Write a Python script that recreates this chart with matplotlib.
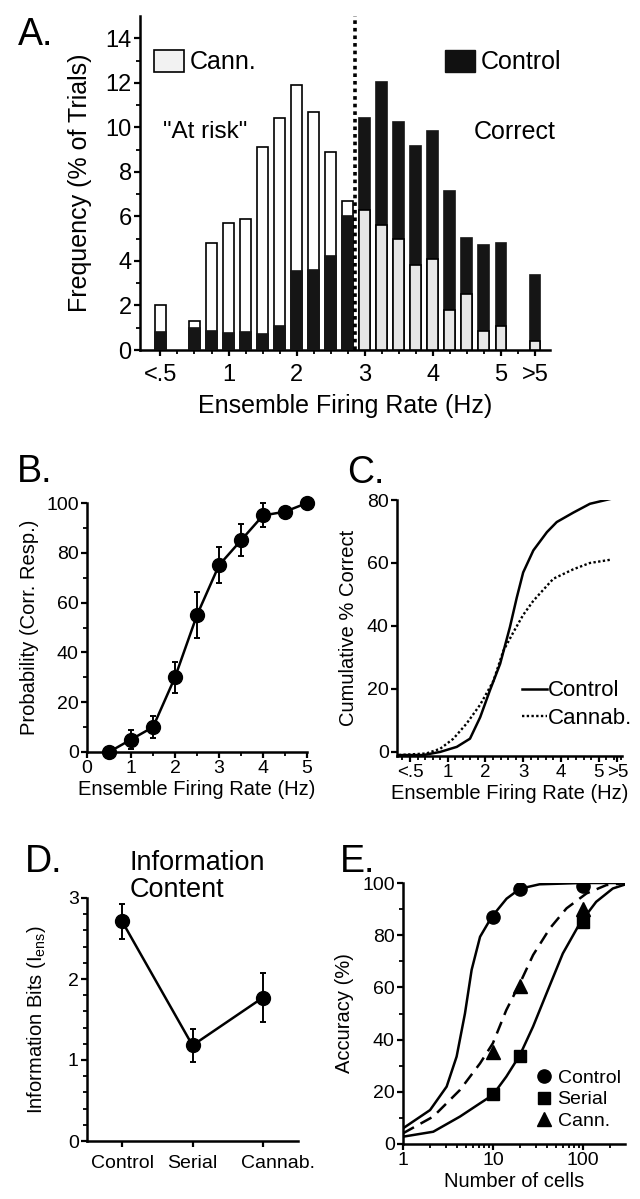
import numpy as np
import matplotlib
matplotlib.use('Agg')
import matplotlib.pyplot as plt
import matplotlib.transforms as mtransforms
from matplotlib.patches import Patch

plt.rcParams['font.family'] = ['Liberation Sans', 'DejaVu Sans']
plt.rcParams['mathtext.fontset'] = 'custom'
plt.rcParams['mathtext.rm'] = 'Liberation Sans'

# --- A: histogram of ensemble firing rate (% of trials)
rate_bins = [0, 0.5, 0.75, 1, 1.25, 1.5, 1.75, 2, 2.25, 2.5, 2.75,
             3, 3.25, 3.5, 3.75, 4, 4.25, 4.5, 4.75, 5, 5.5]
cann_pct = [2.0, 1.3, 4.8, 5.7, 5.9, 9.1, 10.4, 11.9, 10.7, 8.9, 6.7,
            6.3, 5.6, 5.0, 3.8, 4.1, 1.8, 2.5, 0.85, 1.1, 0.4]
ctrl_pct = [0.8, 1.0, 0.85, 0.75, 0.8, 0.7, 1.1, 3.55, 3.6, 4.2, 6.0,
            10.4, 12.05, 10.25, 9.15, 9.85, 7.15, 5.05, 4.7, 4.8, 3.35]
risk_cut = 2.85
a_ticks = [0, 1, 2, 3, 4, 5, 5.5]
a_ticklabels = ['<.5', '1', '2', '3', '4', '5', '>5']

# --- B: probability of correct response
b_rate = [0.5, 1, 1.5, 2, 2.5, 3, 3.5, 4, 4.5, 5]
b_prob = [0, 5, 10, 30, 55, 75, 85, 95, 96.5, 100]
b_err = [0, 3.7, 4.3, 6.2, 9.2, 7.2, 6.4, 4.8, 1.0, 0]

# --- C: cumulative % correct
c_ctrl_x = [-0.3, 0.35, 0.8, 1.24, 1.59, 1.86, 2.12, 2.39, 2.65, 2.83, 3.0,
            3.27, 3.63, 3.89, 4.33, 4.77, 5.3]
c_ctrl_y = [-1, -1, 0, 1.6, 4.2, 11, 19.6, 28, 39.7, 49, 57,
            64, 69.8, 73, 76, 78.8, 80.3]
c_cann_x = [-0.3, 0.43, 0.8, 1.15, 1.5, 1.86, 2.21, 2.47, 2.74, 3.0, 3.27,
            3.8, 4.33, 4.77, 5.3]
c_cann_y = [-1, -0.5, 1.0, 4.2, 9, 15, 22.5, 32, 38, 43.5, 48,
            55, 58, 60, 61]

# --- D: information content
d_groups = ['Control', 'Serial', 'Cannab.']
d_bits = [2.71, 1.18, 1.77]
d_err = [0.21, 0.2, 0.3]

# --- E: accuracy vs number of cells
e_cells = [10, 20, 100]
e_ctrl = [86.8, 97.7, 99.0]
e_serial = [19, 33.8, 84.9]
e_cann = [35.4, 60.5, 89.9]
fit_ctrl_x = [1, 2, 3.06, 3.95, 4.89, 5.8, 7.2, 9.7, 14.2, 20, 33, 97, 300]
fit_ctrl_y = [6, 13, 22, 33.5, 50, 66.7, 79.4, 87, 94, 97.8, 99.5, 100, 100]
fit_cann_x = [1, 2.17, 4.3, 7.2, 10, 14.1, 20, 28, 43, 66, 110, 183, 300]
fit_cann_y = [4.1, 10.5, 20.7, 30.9, 38.6, 51.3, 61.6, 72.4, 82.6, 90.3, 96, 99.2, 100]
fit_serial_x = [1, 2.17, 4.3, 7.2, 10, 14.1, 20, 28, 39.5, 60, 92.6, 141, 216, 300]
fit_serial_y = [2.8, 4.7, 10.5, 15.6, 18.8, 25.8, 34.1, 45, 57.7, 73, 84.5, 92.8, 97.9, 99.5]

W, H = 640, 1199


def px(l, t, r, b):
    return [l / W, 1 - b / H, (r - l) / W, (b - t) / H]


def style(ax, fs):
    ax.spines['top'].set_visible(False)
    ax.spines['right'].set_visible(False)
    for s in ['left', 'bottom']:
        ax.spines[s].set_linewidth(1.8)
    ax.tick_params(which='major', direction='out', length=4, width=1.6, labelsize=fs, pad=2)
    ax.tick_params(which='minor', direction='out', length=3, width=1.3)


fig = plt.figure(figsize=(6.4, 11.99), dpi=100)

# ---------------- A
ax = fig.add_axes(px(140, 16, 550, 350))
bw = 0.16
for x, c, k in zip(rate_bins, cann_pct, ctrl_pct):
    fill = 'white' if x < risk_cut else '#e6e6e6'
    zc, zk = (2, 3) if k < c else (3, 2)
    ax.bar(x, c, bw, color=fill, edgecolor='black', lw=1.2, zorder=zc)
    ax.bar(x, k, bw, color='#151515', edgecolor='#151515', lw=1.2, zorder=zk)
ax.axvline(risk_cut, color='black', ls=(0, (1, 1.1)), lw=2.6, zorder=5)
ax.set_xlim(-0.3, 5.72)
ax.set_ylim(0, 15)
ax.set_xticks(a_ticks)
ax.set_xticklabels(a_ticklabels)
ax.set_xticks(np.arange(0, 5.51, 0.25), minor=True)
ax.set_yticks(range(0, 15, 2))
ax.set_yticks(range(1, 15, 2), minor=True)
style(ax, 17)
ax.tick_params(axis='x', pad=6)
ax.set_xlabel('Ensemble Firing Rate (Hz)', fontsize=18, labelpad=6)
ax.set_ylabel('Frequency (% of Trials)', fontsize=18, labelpad=10)
ax.text(0.66, 9.8, '"At risk"', fontsize=17.5, ha='center', va='center')
ax.text(5.2, 9.8, 'Correct', fontsize=18, ha='center', va='center')
leg1 = ax.legend([Patch(facecolor='#f2f2f2', edgecolor='black', lw=1.2)], ['Cann.'],
                 loc='center left', bbox_to_anchor=(0.035, 0.862), frameon=False,
                 fontsize=18, handlelength=1.2, handleheight=1.0, handletextpad=0.2,
                 borderpad=0, borderaxespad=0)
ax.add_artist(leg1)
ax.legend([Patch(facecolor='#111111', edgecolor='#111111')], ['Control'],
          loc='center left', bbox_to_anchor=(0.745, 0.862), frameon=False,
          fontsize=18, handlelength=1.2, handleheight=1.0, handletextpad=0.2,
          borderpad=0, borderaxespad=0)

# ---------------- B
ax = fig.add_axes(px(87, 503, 307, 752))
ax.errorbar(b_rate, b_prob, yerr=b_err, color='black', lw=1.8, marker='o', ms=10,
            capsize=2.5, elinewidth=1.4, capthick=1.4, clip_on=False, zorder=3)
ax.set_xlim(0, 5)
ax.set_ylim(0, 100)
ax.set_xticks(range(0, 6))
ax.set_xticks(np.arange(0.5, 5, 1), minor=True)
ax.set_yticks(range(0, 101, 20))
ax.set_yticks(range(10, 100, 20), minor=True)
style(ax, 14)
ax.set_xlabel('Ensemble Firing Rate (Hz)', fontsize=14.5, labelpad=2)
ax.set_ylabel('Probability (Corr. Resp.)', fontsize=14.5, labelpad=5)

# ---------------- C
ax = fig.add_axes(px(397, 500, 622, 756))
ax.plot(c_ctrl_x, c_ctrl_y, color='black', lw=1.8, label='Control')
ax.plot(c_cann_x, c_cann_y, color='black', lw=1.7, ls=(0, (1, 1)), label='Cannab.')
ax.set_xlim(-0.345, 5.62)
ax.set_ylim(-1.3, 80)
ax.set_xticks(a_ticks)
ax.set_xticklabels(a_ticklabels)
ax.set_xticks(np.arange(-0.2, 5.61, 0.2), minor=True)
ax.set_yticks(range(0, 81, 20))
style(ax, 14)
ax.tick_params(axis='x', labelsize=13.5)
ax.set_xlabel('Ensemble Firing Rate (Hz)', fontsize=14.5, labelpad=2)
ax.set_ylabel('Cumulative % Correct', fontsize=14.5, labelpad=6)
ax.legend(loc='center left', bbox_to_anchor=(0.556, 0.2), frameon=False, fontsize=16,
          handlelength=1.1, handletextpad=0.05, labelspacing=0.3, borderpad=0, borderaxespad=0)

# ---------------- D
ax = fig.add_axes(px(87, 898, 298, 1141))
xd = np.arange(len(d_groups))
ax.errorbar(xd, d_bits, yerr=d_err, color='black', lw=1.8, marker='o', ms=10,
            capsize=2.5, elinewidth=1.4, capthick=1.4, zorder=3)
ax.set_xlim(-0.5, 2.5)
ax.set_ylim(0, 3)
ax.set_xticks(xd)
ax.set_xticklabels(d_groups)
ax.set_yticks(range(0, 4))
ax.set_yticks(np.arange(0.2, 3, 0.2), minor=True)
style(ax, 14)
ax.tick_params(axis='x', pad=6)
# the last category label sits a little right of its tick in the original
last = ax.get_xticklabels()[-1]
last.set_transform(last.get_transform() + mtransforms.ScaledTranslation(0.15, 0, fig.dpi_scale_trans))
ax.set_ylabel('Information Bits (I$_{\\mathrm{ens}}$)', fontsize=14.5, labelpad=14)

# ---------------- E
ax = fig.add_axes(px(403, 883, 625, 1144))
ax.plot(fit_ctrl_x, fit_ctrl_y, color='black', lw=1.8)
ax.plot(fit_cann_x, fit_cann_y, color='black', lw=1.8, ls=(0, (5, 3)))
ax.plot(fit_serial_x, fit_serial_y, color='black', lw=1.8)
ax.plot(e_cells, e_ctrl, 'o', color='black', ms=9.5, ls='none', label='Control', zorder=4)
ax.plot(e_cells, e_serial, 's', color='black', ms=8.5, ls='none', label='Serial', zorder=4)
ax.plot(e_cells, e_cann, '^', color='black', ms=9.5, ls='none', label='Cann.', zorder=4)
ax.set_xscale('log')
ax.set_xlim(1, 295)
ax.set_ylim(0, 100)
ax.set_xticks([1, 10, 100])
ax.set_xticklabels(['1', '10', '100'])
ax.set_yticks(range(0, 101, 20))
ax.set_yticks(range(10, 100, 20), minor=True)
style(ax, 14)
ax.set_xlabel('Number of cells', fontsize=14.5, labelpad=2)
ax.set_ylabel('Accuracy (%)', fontsize=14.5, labelpad=6)
ax.legend(loc='center left', bbox_to_anchor=(0.6, 0.17), frameon=False, fontsize=14,
          handlelength=0.8, handletextpad=0.3, labelspacing=0.2, borderpad=0, borderaxespad=0)

# panel letters and title
for lab, x, y in [('A.', 18, 45), ('B.', 17, 482), ('C.', 347, 483), ('D.', 25, 872), ('E.', 340, 872)]:
    fig.text(x / W, 1 - y / H, lab, fontsize=27, va='baseline')
fig.text(130 / W, 1 - 870 / H, 'Information', fontsize=19.5, va='baseline')
fig.text(130 / W, 1 - 897 / H, 'Content', fontsize=19.5, va='baseline')

fig.savefig('out.png', dpi=100)
